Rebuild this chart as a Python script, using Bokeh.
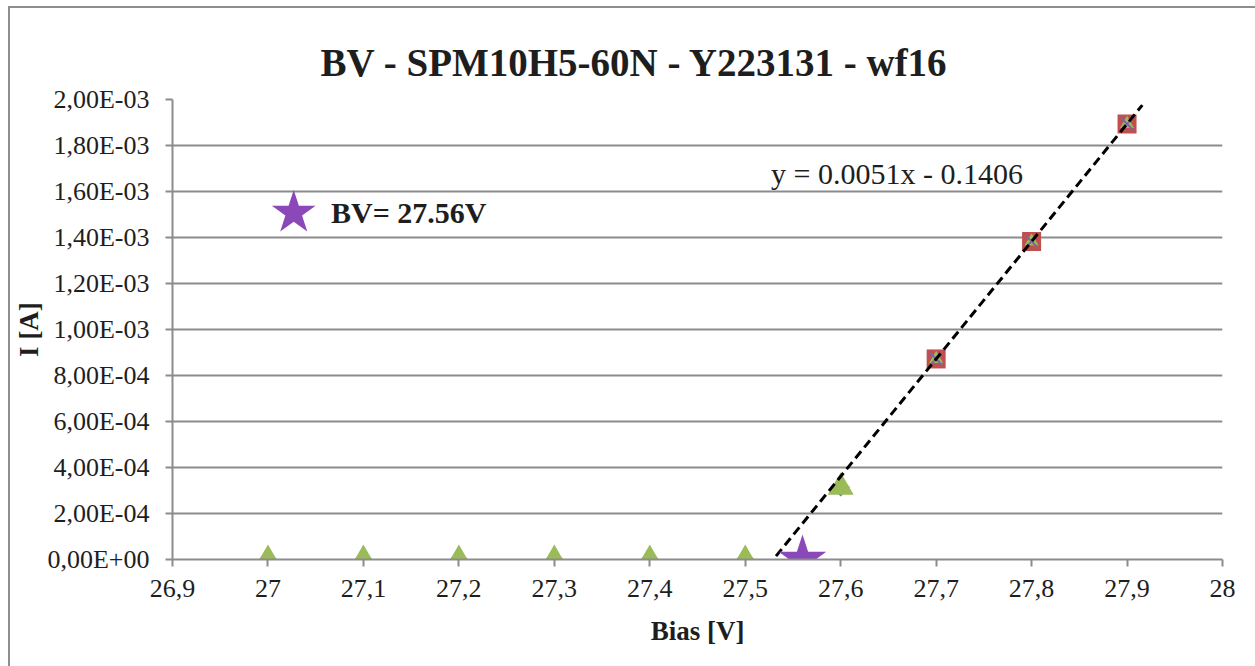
import numpy as np
from bokeh.plotting import figure
from bokeh.models import FixedTicker, Label, Title
from bokeh.embed import file_html
from bokeh.resources import INLINE

# Breakdown-voltage sweep: bias [V] against current [A]
BIAS_LOW = [27.0, 27.1, 27.2, 27.3, 27.4, 27.5, 27.6]
CURRENT_LOW = [0.0, 0.0, 0.0, 0.0, 0.0, 0.0, 3.14e-4]
BIAS_HIGH = [27.7, 27.8, 27.9]
CURRENT_HIGH = [8.72e-4, 1.383e-3, 1.894e-3]

# linear fit over the avalanche region, drawn across this bias span
TREND_BIAS = [27.523, 27.916]
TREND_TEXT = "y = 0.0051x - 0.1406"

# breakdown voltage marker
BV = 27.56
BV_CURRENT = 0.0

X_TICKS = [26.9, 27.0, 27.1, 27.2, 27.3, 27.4, 27.5, 27.6, 27.7, 27.8, 27.9, 28.0]
X_TICK_LABELS = ["26,9", "27", "27,1", "27,2", "27,3", "27,4", "27,5",
                 "27,6", "27,7", "27,8", "27,9", "28"]
Y_TICKS = [0.0, 2e-4, 4e-4, 6e-4, 8e-4, 1e-3, 1.2e-3, 1.4e-3, 1.6e-3, 1.8e-3, 2e-3]
Y_TICK_LABELS = ["0,00E+00", "2,00E-04", "4,00E-04", "6,00E-04", "8,00E-04",
                 "1,00E-03", "1,20E-03", "1,40E-03", "1,60E-03", "1,80E-03",
                 "2,00E-03"]

SERIF = "Liberation Serif"
GRID = "#8c8c8c"
TEXT = "#1e1e1e"

p = figure(width=1247, height=660, margin=(6, 0, 0, 8),
           x_range=(26.9, 28.0), y_range=(0.0, 2e-3),
           output_backend="svg", toolbar_location=None,
           min_border_left=162, min_border_right=35,
           min_border_top=91, min_border_bottom=109,
           styles={"border-left": "2px solid #8e8e8e",
                   "border-top": "2px solid #8e8e8e"})
p.outline_line_color = None
p.background_fill_color = "white"
p.border_fill_color = "white"

p.add_layout(Title(text="BV - SPM10H5-60N - Y223131 - wf16", align="left",
                   offset=148, text_font=SERIF, text_font_size="39px",
                   text_font_style="bold", text_color=TEXT, standoff=32), "above")

# axes
p.xaxis.ticker = FixedTicker(ticks=X_TICKS)
p.xaxis.major_label_overrides = {t: s for t, s in zip(X_TICKS, X_TICK_LABELS)}
p.yaxis.ticker = FixedTicker(ticks=Y_TICKS)
p.yaxis.major_label_overrides = {t: s for t, s in zip(Y_TICKS, Y_TICK_LABELS)}
for ax in (p.xaxis[0], p.yaxis[0]):
    ax.axis_line_color = GRID
    ax.axis_line_width = 2
    ax.major_tick_line_color = GRID
    ax.major_tick_line_width = 2
    ax.major_tick_out = 7
    ax.major_tick_in = 0
    ax.minor_tick_line_color = None
    ax.major_label_text_font = SERIF
    ax.major_label_text_font_size = "26px"
    ax.major_label_text_color = TEXT
    ax.axis_label_text_font = SERIF
    ax.axis_label_text_font_style = "bold"
    ax.axis_label_text_font_size = "27px"
    ax.axis_label_text_color = TEXT
p.xaxis.axis_label = "Bias [V]"
p.yaxis.axis_label = "I [A]"
p.xaxis.major_label_standoff = 13
p.yaxis.major_label_standoff = 16
p.xaxis.axis_label_standoff = 16
p.yaxis.axis_label_standoff = 0

p.xgrid.grid_line_color = None
p.ygrid.grid_line_color = GRID
p.ygrid.grid_line_width = 2

# measured points
p.scatter(BIAS_LOW, CURRENT_LOW, marker="square", angle=np.pi / 4, size=13,
          fill_color="#4f81bd", line_color=None)
p.scatter(BIAS_HIGH, CURRENT_HIGH, marker="square", size=19,
          fill_color="#c0504d", line_color=None)
p.scatter(BIAS_LOW, CURRENT_LOW, marker="triangle", size=26,
          fill_color="#9bbb59", line_color=None)
p.scatter(BIAS_HIGH, CURRENT_HIGH, marker="triangle", size=14,
          fill_color="#9bbb59", line_color=None)
p.scatter(BIAS_HIGH, CURRENT_HIGH, marker="x", size=17,
          line_color="#8064a2", line_width=2)

# linear trend
slope, intercept = np.polyfit(BIAS_HIGH, CURRENT_HIGH, 1)
trend_x = np.array(TREND_BIAS)
p.line(trend_x, slope * trend_x + intercept, line_color="black",
       line_width=3, line_dash="9 5")
p.add_layout(Label(x=27.527, y=1.605e-3, text=TREND_TEXT, text_font=SERIF,
                   text_font_size="30px", text_color=TEXT))

# breakdown point and its note
p.scatter([BV], [BV_CURRENT], marker="star", size=50,
          fill_color="#8b48b8", line_color=None)
p.scatter([27.027], [1.507e-3], marker="star", size=46,
          fill_color="#8b48b8", line_color=None)
p.add_layout(Label(x=27.066, y=1.507e-3, text=f"BV= {BV:.2f}V", text_font=SERIF,
                   text_font_size="30px", text_font_style="bold",
                   text_color=TEXT, text_baseline="middle"))

open("out.html", "w").write(file_html(p, INLINE))
